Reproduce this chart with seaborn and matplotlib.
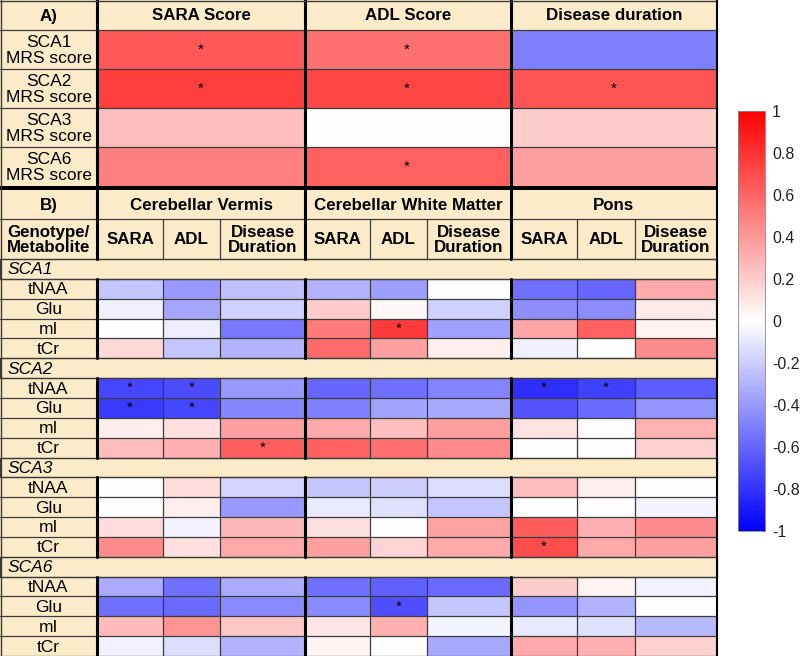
import numpy as np
import pandas as pd
import matplotlib.pyplot as plt
import seaborn as sns
from matplotlib.patches import Rectangle
from matplotlib.ticker import FuncFormatter

sns.set_theme(style='white')
plt.rcParams['font.family'] = ['Liberation Sans', 'DejaVu Sans']
plt.rcParams['axes.unicode_minus'] = False

# Panel A: MRS score vs clinical measures
a_rows = ['SCA1\nMRS score', 'SCA2\nMRS score', 'SCA3\nMRS score', 'SCA6\nMRS score']
a_cols = ['SARA Score', 'ADL Score', 'Disease duration']
a_sara = [0.65, 0.75, 0.25, 0.50]
a_adl = [0.56, 0.72, 0.00, 0.62]
a_dur = [-0.50, 0.67, 0.20, 0.37]
a_stars = [(0, 0), (0, 1), (1, 0), (1, 1), (1, 2), (3, 1)]

# Panel B: metabolite vs clinical measures, per region
regions = ['Cerebellar Vermis', 'Cerebellar White Matter', 'Pons']
sub_cols = ['SARA', 'ADL', 'Disease\nDuration']
genotypes = ['SCA1', 'SCA2', 'SCA3', 'SCA6']
metabolites = ['tNAA', 'Glu', 'mI', 'tCr']
# columns: vermis SARA/ADL/dur, white matter SARA/ADL/dur, pons SARA/ADL/dur
sca1 = [[-0.22, -0.40, -0.25, -0.30, -0.38, 0.00, -0.56, -0.60, 0.33],
        [-0.06, -0.35, -0.18, 0.20, 0.03, -0.18, -0.44, -0.45, 0.08],
        [0.00, -0.07, -0.53, 0.52, 0.77, -0.37, 0.35, 0.62, 0.05],
        [0.15, -0.23, -0.30, 0.58, 0.37, 0.07, -0.06, 0.00, 0.45]]
sca2 = [[-0.72, -0.70, -0.40, -0.60, -0.56, -0.48, -0.82, -0.75, -0.64],
        [-0.77, -0.72, -0.47, -0.50, -0.36, -0.34, -0.67, -0.58, -0.42],
        [0.07, 0.12, 0.37, 0.33, 0.25, 0.37, 0.11, 0.00, 0.30],
        [0.26, 0.31, 0.63, 0.62, 0.56, 0.46, 0.00, 0.00, 0.18]]
sca3 = [[0.00, 0.14, -0.17, -0.22, -0.20, -0.14, 0.25, 0.06, 0.00],
        [0.00, 0.07, -0.40, -0.08, -0.12, -0.23, 0.00, 0.00, -0.04],
        [0.14, -0.04, 0.28, 0.12, 0.00, 0.36, 0.64, 0.31, 0.45],
        [0.45, 0.12, 0.34, 0.37, 0.17, 0.33, 0.70, 0.33, 0.37]]
sca6 = [[-0.33, -0.56, -0.33, -0.56, -0.62, -0.58, 0.20, 0.04, -0.05],
        [-0.56, -0.58, -0.46, -0.46, -0.69, -0.22, -0.42, -0.30, 0.00],
        [0.27, 0.42, 0.22, 0.10, 0.31, -0.04, -0.09, -0.12, -0.28],
        [-0.05, -0.14, -0.30, 0.04, 0.00, -0.34, 0.33, 0.31, 0.18]]
b_stars = [('SCA1', 'mI', 4), ('SCA2', 'tNAA', 0), ('SCA2', 'tNAA', 1),
           ('SCA2', 'tNAA', 6), ('SCA2', 'tNAA', 7), ('SCA2', 'Glu', 0),
           ('SCA2', 'Glu', 1), ('SCA2', 'tCr', 2), ('SCA3', 'tCr', 6),
           ('SCA6', 'Glu', 4)]

# layout in pixels (y downwards)
W, H = 800, 656
BEIGE = '#fcebc8'
LINE = '#3c3c3c'
lab_w = 97
a_x = [97, 305, 511, 717]
a_top, a_rh = 30, 39
b_head, b_sub, b_top = 190, 219, 259
b_x = [97, 163, 220, 305, 370, 427, 511, 577, 635, 717]
b_rh = (H - b_top) / 20


def rect(x0, y0, x1, y1):
    return [x0 / W, 1 - y1 / H, (x1 - x0) / W, (y1 - y0) / H]


fig = plt.figure(figsize=(8, 6.56), dpi=100)
hm = dict(cmap='bwr', vmin=-1, vmax=1, cbar=False, xticklabels=False,
          yticklabels=False, fmt='', annot_kws={'color': 'black', 'fontsize': 11})

# panel A heatmap
a_df = pd.DataFrame({'SARA Score': a_sara, 'ADL Score': a_adl,
                     'Disease duration': a_dur}, index=a_rows)
a_ann = np.full(a_df.shape, '', dtype=object)
for r, c in a_stars:
    a_ann[r, c] = '*'
ax_a = fig.add_axes(rect(a_x[0], a_top, a_x[-1], a_top + 4 * a_rh))
sns.heatmap(a_df, ax=ax_a, annot=a_ann, **hm)

# panel B heatmaps, one axes per column (columns have unequal widths)
b_data = {'SCA1': sca1, 'SCA2': sca2, 'SCA3': sca3, 'SCA6': sca6}
row_index = []
for g in genotypes:
    row_index += [g] + [g + ' ' + m for m in metabolites]
for j in range(9):
    col = []
    ann = []
    for g in genotypes:
        col.append(np.nan)
        ann.append('')
        for i, m in enumerate(metabolites):
            col.append(b_data[g][i][j])
            ann.append('*' if (g, m, j) in b_stars else '')
    df = pd.DataFrame({'r': col}, index=row_index)
    ax_b = fig.add_axes(rect(b_x[j], b_top, b_x[j + 1], H))
    sns.heatmap(df, ax=ax_b, annot=np.array(ann, dtype=object).reshape(-1, 1), **hm)

# overlay: header cells, labels and grid lines
ov = fig.add_axes([0, 0, 1, 1], facecolor='none')
ov.set_xlim(0, W)
ov.set_ylim(H, 0)
ov.axis('off')

ov.add_patch(Rectangle((0, 0), 717, a_top, color=BEIGE, lw=0))
ov.add_patch(Rectangle((0, a_top), lab_w, 4 * a_rh, color=BEIGE, lw=0))
ov.add_patch(Rectangle((0, a_top + 4 * a_rh), 717, b_head - a_top - 4 * a_rh, color='black', lw=0))
ov.add_patch(Rectangle((0, b_head), 717, b_top - b_head, color=BEIGE, lw=0))
ov.add_patch(Rectangle((0, b_top), lab_w, H - b_top, color=BEIGE, lw=0))

bold = dict(ha='center', va='center', fontsize=12.2, fontweight='bold', color='black')
reg = dict(ha='center', va='center', fontsize=12.5, color='black')

# panel A text and lines
ov.text(lab_w / 2, a_top / 2 + 1, 'A)', **bold)
for k, name in enumerate(a_cols):
    ov.text((a_x[k] + a_x[k + 1]) / 2, a_top / 2 + 1, name, **bold)
for k, name in enumerate(a_rows):
    ov.text(lab_w / 2, a_top + (k + 0.5) * a_rh + 1, name, linespacing=1.05, **reg)
for k in range(4):
    ov.plot([0, 717], [a_top + k * a_rh] * 2, color=LINE, lw=0.9)
for x in a_x[:-1]:
    ov.plot([x, x], [0, a_top + 4 * a_rh], color='black', lw=2.2)

# panel B text and lines
ov.text(lab_w / 2, (b_head + b_sub) / 2 + 1, 'B)', **bold)
for k, name in enumerate(regions):
    ov.text((b_x[3 * k] + b_x[3 * k + 3]) / 2, (b_head + b_sub) / 2 + 1, name, **bold)
ov.text(lab_w / 2, (b_sub + b_top) / 2 + 1, 'Genotype/\nMetabolite', linespacing=1.0, **bold)
for j in range(9):
    ov.text((b_x[j] + b_x[j + 1]) / 2, (b_sub + b_top) / 2 + 1, sub_cols[j % 3],
            linespacing=1.0, **bold)

ov.plot([0, 717], [b_sub] * 2, color=LINE, lw=0.9)
for k in range(21):
    ov.plot([0, 717], [b_top + k * b_rh] * 2, color=LINE, lw=0.9)
for gi, g in enumerate(genotypes):
    y0 = b_top + gi * 5 * b_rh
    ov.add_patch(Rectangle((0, y0), 717, b_rh, facecolor=BEIGE, edgecolor=LINE, lw=0.9))
    ov.text(8, y0 + b_rh / 2 + 1, g, ha='left', va='center', fontsize=12.5,
            style='italic', color='black')
    for i, m in enumerate(metabolites):
        ov.text(lab_w / 2, y0 + (i + 1.5) * b_rh + 1, m, **reg)
    # vertical separators within the metabolite rows
    for j, x in enumerate(b_x[:-1]):
        thick = j % 3 == 0
        ov.plot([x, x], [y0 + b_rh, y0 + 5 * b_rh], color='black' if thick else LINE,
                lw=2.2 if thick else 0.9)
for j, x in enumerate(b_x[:-1]):
    if j % 3 == 0:
        ov.plot([x, x], [b_head, b_top], color='black', lw=2.2)
    else:
        ov.plot([x, x], [b_sub, b_top], color=LINE, lw=0.9)

# outer frame
ov.plot([0, 717], [0.5, 0.5], color=LINE, lw=1)
ov.plot([0.5, 0.5], [0, H], color=LINE, lw=1)
ov.plot([717, 717], [0, H], color='black', lw=1.5)

# colorbar
cax = fig.add_axes(rect(738, 111, 765, 531))
cb = fig.colorbar(ax_a.collections[0], cax=cax, ticks=np.linspace(-1, 1, 11))
cb.ax.yaxis.set_major_formatter(FuncFormatter(lambda v, p: '%g' % round(v, 1) if abs(v) > 1e-9 else '0'))
cb.ax.tick_params(direction='in', length=3, width=0.8, color='#555555',
                  labelsize=11.5, labelcolor='#222222', pad=5)
cb.outline.set_edgecolor('#888888')
cb.outline.set_linewidth(0.6)

fig.savefig('out.png', dpi=100)
